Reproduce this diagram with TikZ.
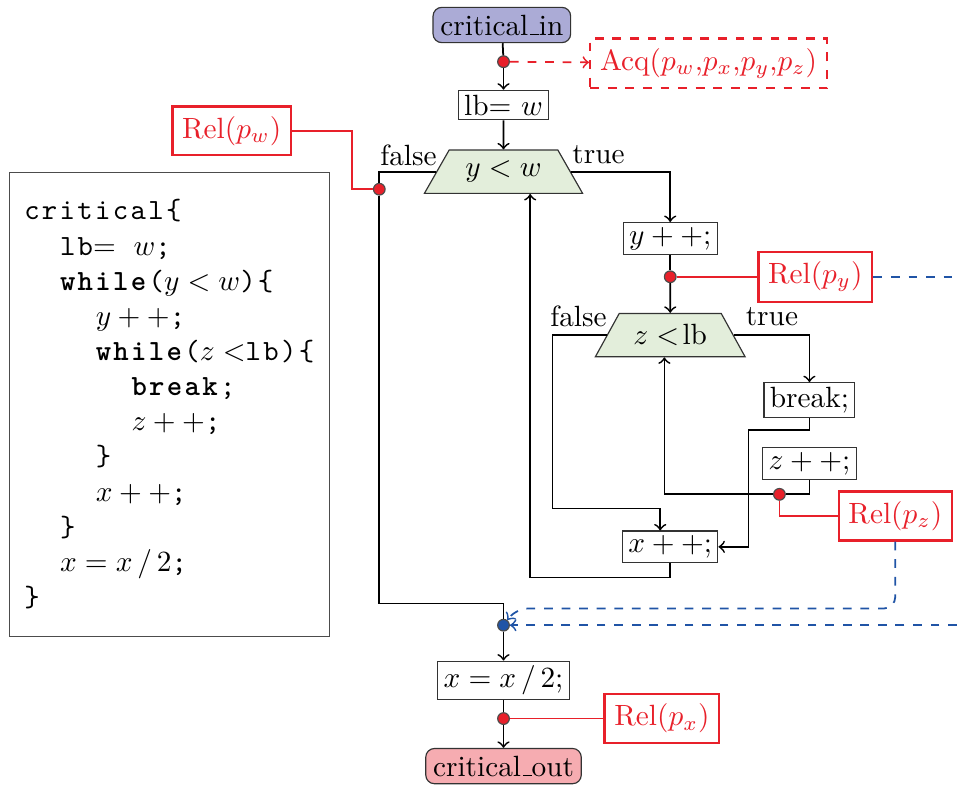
\documentclass[tikz,border=0pt]{standalone}
\usepackage{fontspec}
\usetikzlibrary{positioning,shapes.geometric}
\newfontfamily\codefont{lmmono10-regular.otf}[BoldFont=lmmonolt10-bold.otf,LetterSpace=8]
\definecolor{termin}{RGB}{171,171,214}
\definecolor{termout}{RGB}{246,172,177}
\definecolor{condfill}{RGB}{227,238,219}
\definecolor{relred}{RGB}{232,32,42}
\definecolor{flowblue}{RGB}{32,84,166}
\newcommand{\codeind}{\hspace*{12.2pt}}
\newcommand{\usbar}{\kern.06em\rule{.3em}{.4pt}}
\tikzset{font=\normalsize}

\begin{document}
\begin{tikzpicture}[stmt/.style={draw=black!80,thin,inner xsep=2pt,inner ysep=1.5pt},
    term/.style={draw=black!80,rounded corners=3pt,inner xsep=2.5pt,inner ysep=2.5pt},
    cond/.style={draw=black!80,fill=condfill,trapezium,trapezium left angle=62,trapezium right angle=62,trapezium stretches=true,minimum height=0.52cm},
    relbox/.style={draw=relred,text=relred,thick},
    rdot/.style={circle,draw=black!70,fill=relred,inner sep=0pt,minimum size=0.14cm},
    bdot/.style={circle,draw=black!70,fill=flowblue,inner sep=0pt,minimum size=0.14cm},
    flow/.style={semithick},
    relline/.style={draw=relred,semithick},
    reldash/.style={draw=relred,semithick,dashed},
    bluedash/.style={draw=flowblue,semithick,dashed}]
      \useasboundingbox (0,0) rectangle (11.48,-9.42);

      \node[term,fill=termin] (CIn) at (6.02,-0.30) {critical\usbar in};
      \node[rdot] (DIn) at (6.04,-0.74) {};
      \node[relbox,dashed] (Acq) at (8.50,-0.76) {Acq($p_w$,$p_x$,$p_y$,$p_z$)};
      \node[stmt] (LB) at (6.04,-1.26) {lb$=$ $w$};

      \node[cond,minimum width=1.9cm] (C1) at (6.04,-2.06) {$y<w$};
      \node (F1) at (4.90,-1.86) {false};
      \node (T1) at (7.18,-1.86) {true};
      \node[relbox] (RelW) at (2.78,-1.57) {Rel($p_w$)};
      \node[rdot] (DW) at (4.55,-2.27) {};

      \node[stmt] (YInc) at (8.04,-2.86) {$y++;$};
      \node[rdot] (DY) at (8.04,-3.32) {};
      \node[relbox] (RelY) at (9.78,-3.32) {Rel($p_y$)};

      \node[cond,minimum width=1.8cm] (C2) at (8.04,-4.02) {$z<\!\mathrm{lb}$};
      \node (F2) at (6.94,-3.80) {false};
      \node (T2) at (9.26,-3.80) {true};
      \node[stmt] (Brk) at (9.71,-4.80) {break;};
      \node[stmt] (ZInc) at (9.71,-5.56) {$z++;$};
      \node[rdot] (DZ) at (9.35,-5.93) {};
      \node[relbox] (RelZ) at (10.74,-6.19) {Rel($p_z$)};
      \node[stmt] (XInc) at (8.04,-6.56) {$x++;$};

      \node[bdot] (DJ) at (6.04,-7.50) {};
      \node[stmt] (XDiv) at (6.04,-8.16) {$x = x\,/\,2;$};
      \node[rdot] (DX) at (6.04,-8.62) {};
      \node[relbox] (RelX) at (7.94,-8.62) {Rel($p_x$)};
      \node[term,fill=termout] (COut) at (6.04,-9.19) {critical\usbar out};

      \node[draw=black!70,thin,minimum width=3.84cm,minimum height=5.57cm,align=left,font=\codefont] (Code) at (2.03,-4.85) {critical\{\\
        \codeind lb$=$ $w$;\\
        \codeind\textbf{while}($y<w$)\{\\
        \codeind\codeind$y++$;\\
        \codeind\codeind\textbf{while}($z<$lb)\{\\
        \codeind\codeind\codeind\textbf{break};\\
        \codeind\codeind\codeind$z++$;\\
        \codeind\codeind\}\\
        \codeind\codeind$x++$;\\
        \codeind\}\\
        \codeind$x = x\,/\,2$;\\
        \}};

      \coordinate (Jf) at (6.04,-7.24);
      \coordinate (Jz) at (6.19,-7.30);
      \coordinate (EdgeY) at (11.48,-3.32);
      \coordinate (EdgeJ) at (11.48,-7.50);

      \draw[flow] (CIn) -- (DIn);
      \draw[flow,->] (DIn) -- (LB);
      \draw[reldash,->] (DIn) -- (Acq);
      \draw[flow,->] (LB) -- (C1);
      \draw[flow,->] (C1.east) -| (YInc.north);
      \draw[flow] (C1.west) -| (DW);
      \draw[relline] (RelW.east) -- ++(0.72,0) |- (DW);
      \draw[flow] (DW) |- (Jf) -- (DJ);

      \draw[flow] (YInc) -- (DY);
      \draw[flow,->] (DY) -- (C2);
      \draw[relline] (DY) -- (RelY);
      \draw[bluedash] (RelY) -- (EdgeY);

      \draw[flow,->] (C2.east) -| (Brk.north);
      \draw[flow,->] (C2.west) -- ++(-0.65,0) -- ++(0,-2.08) -| ([xshift=-0.12cm]XInc.north);
      \draw[flow,->] (Brk.south) -- ++(0,-0.14) -| ([xshift=0.36cm]XInc.east) -- (XInc.east);
      \draw[flow] (ZInc.south) |- (DZ);
      \draw[flow,->] (DZ) -| ([xshift=-0.07cm]C2.south);
      \draw[relline] (DZ) |- (RelZ.west);
      \draw[flow,->] (XInc.south) -- ++(0,-0.17) -| ([xshift=0.32cm]C1.south);

      \draw[bluedash,->,rounded corners=4pt] (RelZ.south) |- (Jz) -- (DJ);
      \draw[bluedash,->] (EdgeJ) -- (DJ);
      \draw[flow,->] (DJ) -- (XDiv);
      \draw[flow] (XDiv) -- (DX);
      \draw[flow,->] (DX) -- (COut);
      \draw[relline] (DX) -- (RelX);
  \end{tikzpicture}
\end{document}
